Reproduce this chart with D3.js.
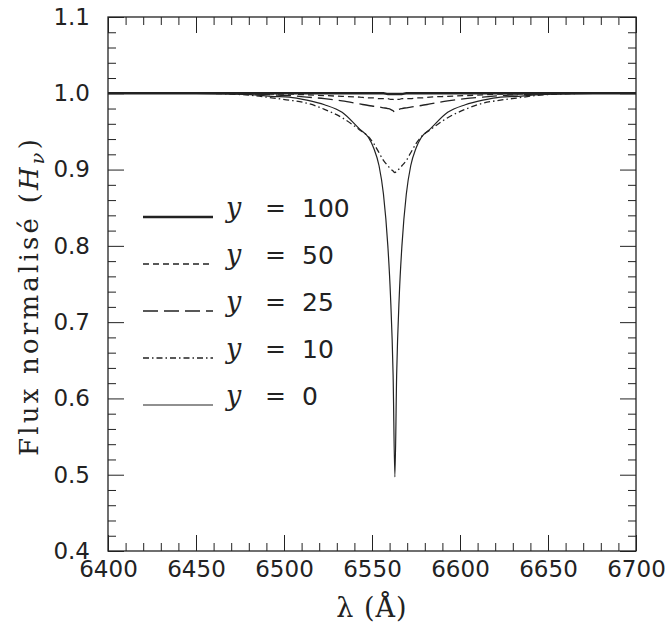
<!DOCTYPE html>
<html>
<head>
<meta charset="utf-8">
<script src="https://cdn.jsdelivr.net/npm/d3@7"></script>
<style>
  body { margin: 0; background: #fff; }
  svg { display: block; }
  .tick text { font-family: "DejaVu Sans", sans-serif; font-size: 23px; fill: #222; }
</style>
</head>
<body>
<div id="chart"></div>
<script>
// wavelength grid (Å)
const lambda = [6400, 6450, 6470, 6483, 6493, 6503, 6513, 6523, 6533, 6543, 6548, 6551, 6554, 6556.5, 6559, 6560.5, 6562,
  6563,
  6564, 6565.5, 6567, 6569.5, 6572, 6575, 6578, 6583, 6593, 6603, 6613, 6623, 6633, 6643, 6656, 6676, 6700];

const flux_y100 = [1.000, 1.000, 1.000, 1.000, 1.000, 1.000, 1.000, 1.000, 1.000, 1.000, 1.000, 1.000, 1.000, 1.000, 0.999, 0.999, 0.999,
  0.999,
  0.999, 0.999, 0.999, 1.000, 1.000, 1.000, 1.000, 1.000, 1.000, 1.000, 1.000, 1.000, 1.000, 1.000, 1.000, 1.000, 1.000];
const flux_y50 = [1.000, 1.000, 1.000, 1.000, 0.999, 0.999, 0.998, 0.997, 0.996, 0.995, 0.994, 0.994, 0.993, 0.993, 0.993, 0.992, 0.992,
  0.991,
  0.992, 0.992, 0.993, 0.993, 0.993, 0.994, 0.994, 0.995, 0.996, 0.997, 0.998, 0.999, 0.999, 1.000, 1.000, 1.000, 1.000];
const flux_y25 = [1.000, 1.000, 1.000, 0.999, 0.998, 0.997, 0.995, 0.993, 0.990, 0.986, 0.984, 0.983, 0.982, 0.981, 0.980, 0.979, 0.977,
  0.975,
  0.977, 0.979, 0.980, 0.981, 0.982, 0.983, 0.984, 0.986, 0.990, 0.993, 0.995, 0.997, 0.998, 0.999, 1.000, 1.000, 1.000];
const flux_y10 = [1.000, 1.000, 0.999, 0.997, 0.994, 0.991, 0.987, 0.979, 0.968, 0.952, 0.943, 0.934, 0.922, 0.912, 0.905, 0.901, 0.898,
  0.896,
  0.898, 0.901, 0.905, 0.912, 0.922, 0.934, 0.943, 0.952, 0.968, 0.979, 0.987, 0.991, 0.994, 0.997, 0.999, 1.000, 1.000];
const flux_y0 = [1.000, 1.000, 0.999, 0.998, 0.996, 0.995, 0.991, 0.985, 0.975, 0.953, 0.942, 0.928, 0.905, 0.868, 0.800, 0.735, 0.630,
  0.497,
  0.630, 0.735, 0.800, 0.868, 0.905, 0.928, 0.942, 0.953, 0.975, 0.985, 0.991, 0.995, 0.996, 0.998, 0.999, 1.000, 1.000];

const seriesNames = ["100", "50", "25", "10", "0"];
const seriesFlux = [flux_y100, flux_y50, flux_y25, flux_y10, flux_y0];
const seriesDash = [null, "6,4", "15,6", "6,3,1.5,3", null];
const seriesWidth = [2.4, 1.3, 1.3, 1.3, 1.2];

const xTicks = [6400, 6450, 6500, 6550, 6600, 6650, 6700];
const yTicks = [0.4, 0.5, 0.6, 0.7, 0.8, 0.9, 1.0, 1.1];

const W = 669, H = 634;
const m = { top: 17, right: 33, bottom: 83, left: 108 };
const iw = W - m.left - m.right, ih = H - m.top - m.bottom;

const svg = d3.select("#chart").append("svg").attr("width", W).attr("height", H);
const g = svg.append("g").attr("transform", `translate(${m.left},${m.top})`);

const x = d3.scaleLinear().domain([6400, 6700]).range([0, iw]);
const y = d3.scaleLinear().domain([0.4, 1.1]).range([ih, 0]);

const ink = "#222";
const xMinor = d3.range(6400, 6701, 10).filter(v => v % 50 !== 0);
const yMinor = d3.range(40, 111, 2).filter(v => v % 10 !== 0).map(v => v / 100);

function styleAxis(sel) {
  sel.select(".domain").remove();
  sel.selectAll("line").attr("stroke", ink).attr("stroke-width", 1);
}

// bottom axis (labelled)
g.append("g").attr("transform", `translate(0,${ih})`)
  .call(d3.axisBottom(x).tickValues(xTicks).tickSize(-16).tickPadding(10).tickFormat(d3.format("d")))
  .call(styleAxis);
g.append("g").attr("transform", `translate(0,${ih})`)
  .call(d3.axisBottom(x).tickValues(xMinor).tickSize(-8).tickFormat(""))
  .call(styleAxis);
// top axis
g.append("g").call(d3.axisTop(x).tickValues(xTicks).tickSize(-16).tickFormat("")).call(styleAxis);
g.append("g").call(d3.axisTop(x).tickValues(xMinor).tickSize(-8).tickFormat("")).call(styleAxis);
// left axis (labelled)
g.append("g")
  .call(d3.axisLeft(y).tickValues(yTicks).tickSize(-16).tickPadding(18).tickFormat(d3.format(".1f")))
  .call(styleAxis);
g.append("g").call(d3.axisLeft(y).tickValues(yMinor).tickSize(-8).tickFormat("")).call(styleAxis);
// right axis
g.append("g").attr("transform", `translate(${iw},0)`)
  .call(d3.axisRight(y).tickValues(yTicks).tickSize(-16).tickFormat("")).call(styleAxis);
g.append("g").attr("transform", `translate(${iw},0)`)
  .call(d3.axisRight(y).tickValues(yMinor).tickSize(-8).tickFormat("")).call(styleAxis);

// frame
g.append("rect").attr("width", iw).attr("height", ih)
  .attr("fill", "none").attr("stroke", ink).attr("stroke-width", 1.3);

// curves
const line = d3.line().x((d, i) => x(lambda[i])).y(d => y(d)).curve(d3.curveMonotoneX);
for (let k = seriesFlux.length - 1; k >= 0; k--) {
  g.append("path").datum(seriesFlux[k])
    .attr("fill", "none").attr("stroke", ink)
    .attr("stroke-width", seriesWidth[k])
    .attr("stroke-dasharray", seriesDash[k])
    .attr("d", line);
}

// legend
const leg = g.append("g").attr("transform", "translate(35,200)");
seriesNames.forEach((name, i) => {
  const row = leg.append("g").attr("transform", `translate(0,${i * 47})`);
  row.append("line").attr("x1", 0).attr("x2", 70).attr("y1", 0).attr("y2", 0)
    .attr("stroke", ink).attr("stroke-width", seriesWidth[i])
    .attr("stroke-dasharray", seriesDash[i]);
  row.append("text").attr("x", 83).attr("y", 0)
    .attr("font-family", "'DejaVu Serif', serif").attr("font-style", "italic")
    .attr("font-size", 27).attr("fill", ink).text("y");
  row.append("text").attr("x", 122).attr("y", -1)
    .attr("font-family", "'DejaVu Serif', serif")
    .attr("font-size", 25).attr("fill", ink).text("=");
  row.append("text").attr("x", 159).attr("y", 0)
    .attr("font-family", "'DejaVu Sans', sans-serif")
    .attr("font-size", 25).attr("fill", ink).text(name);
});

// axis titles
svg.append("text")
  .attr("x", m.left + iw / 2).attr("y", 617).attr("text-anchor", "middle")
  .attr("font-family", "'DejaVu Serif', serif").attr("font-size", 27).attr("letter-spacing", 1)
  .attr("fill", ink)
  .text("λ (Å)");

const yt = svg.append("text")
  .attr("transform", `translate(38,296) rotate(-90)`)
  .attr("text-anchor", "middle").attr("letter-spacing", 3.2)
  .attr("font-family", "'DejaVu Serif', serif").attr("font-size", 26).attr("fill", ink);
yt.append("tspan").text("Flux normalisé (");
yt.append("tspan").attr("font-style", "italic").text("H");
yt.append("tspan").attr("font-style", "italic").attr("font-size", 19).attr("dy", 6).text("ν");
yt.append("tspan").attr("dy", -6).text(")");
</script>
</body>
</html>
